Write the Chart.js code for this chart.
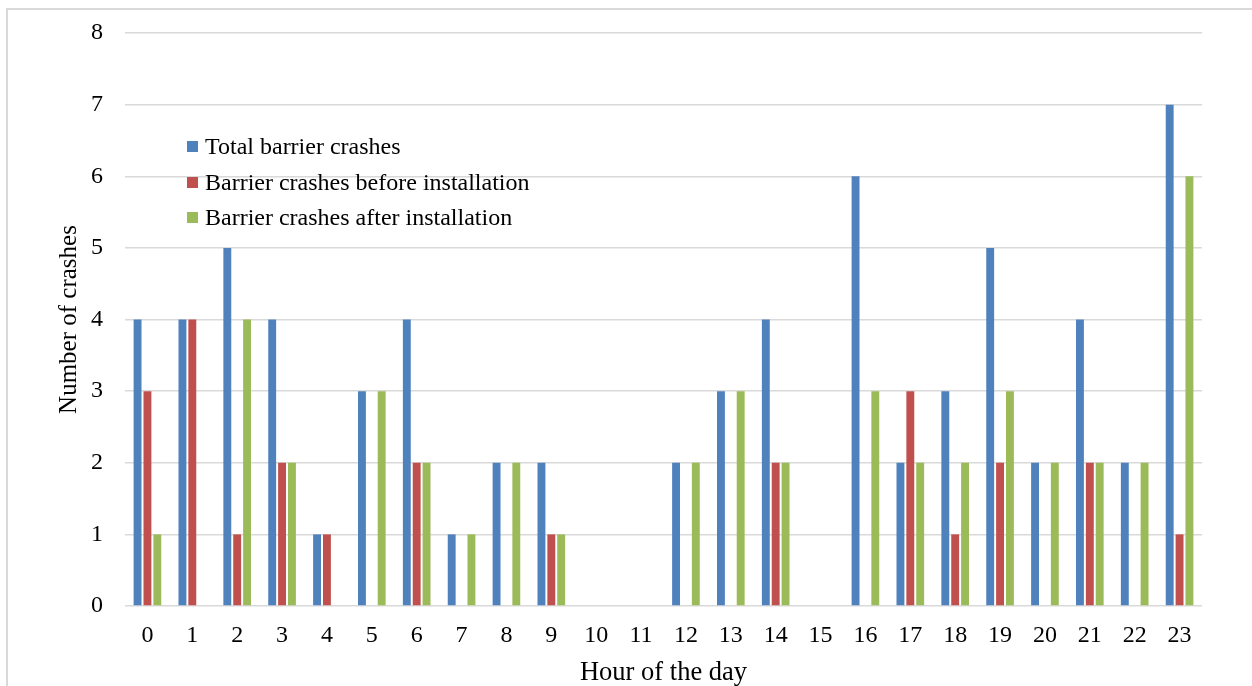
<!DOCTYPE html>
<html>
<head>
<meta charset="utf-8">
<script src="https://cdn.jsdelivr.net/npm/chart.js@4/dist/chart.umd.min.js"></script>
<style>
  html, body { margin: 0; padding: 0; background: #fff; }
  #wrap { position: relative; width: 1252px; height: 686px; overflow: hidden; }
  #frame { position: absolute; left: 6px; top: 8px; width: 1260px; height: 700px; border: 2px solid #d9d9d9; box-sizing: border-box; }
  #chart { position: absolute; left: 0; top: 0; }
  #legend { position: absolute; left: 187px; top: 129px; font-family: "Liberation Serif", "Times New Roman", serif; font-size: 24px; color: #000; }
  #legend .row { height: 35.5px; display: flex; align-items: center; white-space: nowrap; }
  #legend .box { width: 11px; height: 11px; margin-right: 7px; }
</style>
</head>
<body>
<div id="wrap">
  <div id="frame"></div>
  <canvas id="chart" width="1252" height="686"></canvas>
  <div id="legend"></div>
</div>
<script>
// hours of the day
const hours = ['0','1','2','3','4','5','6','7','8','9','10','11','12','13','14','15','16','17','18','19','20','21','22','23'];
const totalCrashes  = [4, 4, 5, 4, 1, 3, 4, 1, 2, 2, 0, 0, 2, 3, 4, 0, 6, 2, 3, 5, 2, 4, 2, 7];
const beforeInstall = [3, 4, 1, 2, 1, 0, 2, 0, 0, 1, 0, 0, 0, 0, 2, 0, 0, 3, 1, 2, 0, 2, 0, 1];
const afterInstall  = [1, 0, 4, 2, 0, 3, 2, 1, 2, 1, 0, 0, 2, 3, 2, 0, 3, 2, 2, 3, 2, 2, 2, 6];
const seriesNames = ['Total barrier crashes', 'Barrier crashes before installation', 'Barrier crashes after installation'];
const seriesColors = ['#4F81BD', '#C0504D', '#9BBB59'];

const FONT = '"Liberation Serif", "Times New Roman", serif';

// legend sits inside the plot, top-left
document.getElementById('legend').innerHTML = seriesNames.map((name, i) =>
  `<div class="row"><span class="box" style="background:${seriesColors[i]}"></span>${name}</div>`
).join('');

const ctx = document.getElementById('chart').getContext('2d');
new Chart(ctx, {
  type: 'bar',
  data: {
    labels: hours,
    datasets: [totalCrashes, beforeInstall, afterInstall].map((d, i) => ({
      label: seriesNames[i],
      data: d,
      backgroundColor: seriesColors[i],
      borderWidth: 0,
      categoryPercentage: 0.66,
      barPercentage: 0.8
    }))
  },
  options: {
    responsive: false,
    animation: false,
    layout: { padding: { left: 52, top: 33, right: 50, bottom: 0 } },
    plugins: { legend: { display: false }, tooltip: { enabled: false } },
    scales: {
      x: {
        grid: { display: false },
        border: { display: false },
        ticks: { color: '#000', font: { family: FONT, size: 24 }, padding: 7, maxRotation: 0, autoSkip: false },
        title: { display: true, text: 'Hour of the day', color: '#000', font: { family: FONT, size: 26.5, lineHeight: 1.0 }, padding: { top: 0, bottom: 0 } },
        afterFit: s => { s.height = 80; s.paddingLeft = 0; s.paddingRight = 0; }
      },
      y: {
        min: 0, max: 8,
        grid: { color: '#d9d9d9', lineWidth: 1.5, drawTicks: false },
        border: { display: false },
        ticks: { stepSize: 1, color: '#000', font: { family: FONT, size: 24 }, padding: 22 },
        title: { display: true, text: 'Number of crashes', color: '#000', font: { family: FONT, size: 25 }, padding: { top: 2, bottom: 0 } },
        afterFit: s => { s.width = 73; s.paddingTop = 0; s.paddingBottom = 0; }
      }
    }
  }
});
</script>
</body>
</html>
